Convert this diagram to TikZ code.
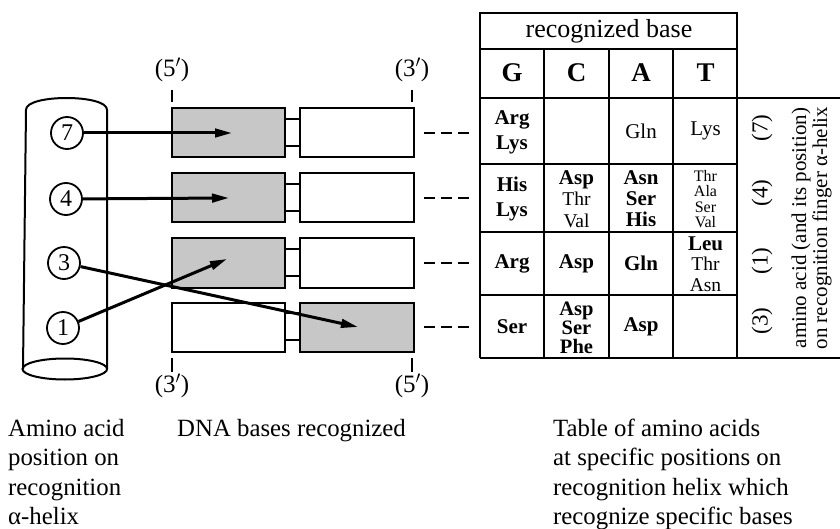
\documentclass[tikz,border=0pt]{standalone}
\usepackage{fontspec}
\setmainfont{Liberation Serif}
\usetikzlibrary{arrows.meta,calc}
\newcommand\fsz[2]{\fontsize{#1}{#2}\selectfont}
\begin{document}
\begin{tikzpicture}[x=1pt,y=-1pt,
  cyl/.style={line width=2pt},
  num/.style={circle,draw,line width=1.8pt,minimum size=32pt,inner sep=0pt,fill=white,font=\fsz{24}{24}},
  basebox/.style={draw,line width=2pt,minimum height=49pt,inner sep=0pt,anchor=west},
  lbox/.style={basebox,minimum width=113pt},
  rbox/.style={basebox,minimum width=114pt},
  shaded/.style={fill=black!22},
  link/.style={line width=1.8pt},
  dashlink/.style={line width=2pt,dash pattern=on 11pt off 6pt},
  arr/.style={line width=3pt,-{Triangle[length=17pt,width=8.5pt]}},
  tick/.style={line width=1.5pt},
  prime/.style={font=\fsz{25}{25},inner sep=0pt},
  captxt/.style={font=\fsz{24.8}{29.5},anchor=base west,inner sep=0pt},
  thickl/.style={line width=2.6pt},
  medl/.style={line width=1.8pt},
  thinl/.style={line width=1.3pt},
  cell/.style={align=center,inner sep=0pt},
  rot/.style={rotate=90,inner sep=0pt,align=center}
]
\useasboundingbox (0,0) rectangle (840,529);

% helix cylinder
\draw[cyl] (26,110) .. controls (25,94) and (108,94) .. (107,110) -- (107,369);
\draw[cyl] (26,110) -- (23,369);
\draw[cyl] (64.8,369) ellipse [x radius=42.3, y radius=10.5];

% amino acid positions
\node[num] (c7) at (67,133) {7};
\node[num] (c4) at (66,199) {4};
\node[num] (c3) at (64,263) {3};
\node[num] (c1) at (63,328) {1};

% DNA bases
\node[lbox,shaded] (l7) at (171,133) {};
\node[rbox] (r7) at (299,133) {};
\node[lbox,shaded] (l4) at (171,198) {};
\node[rbox] (r4) at (299,198) {};
\node[lbox,shaded] (l3) at (171,263) {};
\node[rbox] (r3) at (299,263) {};
\node[lbox] (l1) at (171,327) {};
\node[rbox,shaded] (r1) at (299,327) {};

\foreach \r in {7,4,3,1}{
  \draw[link] ([yshift=14pt]l\r.east) -- ([yshift=14pt]r\r.west);
  \draw[link] ([yshift=-13pt]l\r.east) -- ([yshift=-13pt]r\r.west);
  \draw[dashlink] ([xshift=9pt]r\r.east) -- ([xshift=55pt]r\r.east);
}

% end labels
\node[prime] (p5t) at (172,70) {(5$'$)};
\node[prime] (p3t) at (412,70) {(3$'$)};
\node[prime] (p3b) at (172,386) {(3$'$)};
\node[prime] (p5b) at (412,386) {(5$'$)};
\draw[tick] (172,90) -- (172,102);
\draw[tick] (412,90) -- (412,102);
\draw[tick] (172,358) -- (172,372);
\draw[tick] (412,358) -- (412,372);

% arrows
\coordinate (t7) at (232,133);
\coordinate (t4) at (229,198);
\coordinate (t1) at (227,259);
\coordinate (t3) at (358,327);
\draw[arr] (c7) -- (t7);
\draw[arr] (c4) -- (t4);
\draw[arr] (c3) -- (t3);
\draw[arr] (c1) -- (t1);

% table grid
\draw[thinl] (544,49) -- (544,358) (609,49) -- (609,358) (673,49) -- (673,358);
\draw[thinl] (480,164) -- (737,164) (480,232) -- (737,232) (480,295) -- (737,295);
\draw[medl] (480,49) -- (737,49);
\draw[thickl] (480,358) -- (480,13) -- (737,13) -- (737,358);
\draw[thickl] (480,98) -- (842,98);
\draw[thickl] (480,358) -- (842,358);

% header
\node[cell,font=\fsz{26}{26}] (hdr) at (609,31) {recognized base};
\node[cell,font=\bfseries\fsz{27}{27}] (hG) at (512,73) {G};
\node[cell,font=\bfseries\fsz{27}{27}] (hC) at (576.5,73) {C};
\node[cell,font=\bfseries\fsz{27}{27}] (hA) at (641,73) {A};
\node[cell,font=\bfseries\fsz{27}{27}] (hT) at (705.5,73) {T};

% row (7)
\node[cell,font=\bfseries\fsz{21}{25}] (g7) at (512,132) {Arg\\Lys};
\node[cell,font=\fsz{21}{21}] (a7) at (641,131) {Gln};
\node[cell,font=\fsz{21}{21}] (tt7) at (705.5,131) {Lys};
% row (4)
\node[cell,font=\bfseries\fsz{21}{25}] (g4) at (512,199) {His\\Lys};
\node[cell,font=\fsz{19.5}{21.5}] (cc4) at (576.5,199) {\textbf{\fontsize{21}{21}\selectfont Asp}\\Thr\\Val};
\node[cell,font=\bfseries\fsz{21}{21}] (a4) at (641,199) {Asn\\Ser\\His};
\node[cell,font=\fsz{16}{15.2}] (tt4) at (705.5,199) {Thr\\Ala\\Ser\\Val};
% row (1)
\node[cell,font=\bfseries\fsz{21}{21}] (g1) at (512,263.5) {Arg};
\node[cell,font=\bfseries\fsz{21}{21}] (cc1) at (576.5,263.5) {Asp};
\node[cell,font=\bfseries\fsz{21}{21}] (a1) at (641,263.5) {Gln};
\node[cell,font=\fsz{19.5}{20.5}] (tt1) at (705.5,264) {\textbf{\fontsize{21}{21}\selectfont Leu}\\Thr\\Asn};
% row (3)
\node[cell,font=\bfseries\fsz{21}{21}] (g3) at (512,327) {Ser};
\node[cell,font=\bfseries\fsz{20.5}{19}] (cc3) at (576.5,328) {Asp\\Ser\\Phe};
\node[cell,font=\bfseries\fsz{21}{21}] (a3) at (641,327) {Asp};

% row labels
\node[rot,font=\fsz{23}{23}] (n7) at (762,128) {(7)};
\node[rot,font=\fsz{23}{23}] (n4) at (762,193) {(4)};
\node[rot,font=\fsz{23}{23}] (n1) at (762,261) {(1)};
\node[rot,font=\fsz{23}{23}] (n3) at (762,321) {(3)};
\node[rot,font=\fsz{21}{21}] (side) at (811.5,228) {amino acid (and its position)\\on recognition finger α-helix};

% captions
\node[captxt] (ca1) at (8,436) {Amino acid};
\node[captxt] (ca2) at (8,465.5) {position on};
\node[captxt] (ca3) at (8,495) {recognition};
\node[captxt] (ca4) at (8,524.5) {α-helix};
\node[captxt] (cb1) at (177,436) {DNA bases recognized};
\node[captxt] (cc1a) at (553,436) {Table of amino acids};
\node[captxt] (cc2a) at (553,465.5) {at specific positions on};
\node[captxt] (cc3a) at (553,495) {recognition helix which};
\node[captxt] (cc4a) at (553,524.5) {recognize specific bases};
\end{tikzpicture}
\end{document}
